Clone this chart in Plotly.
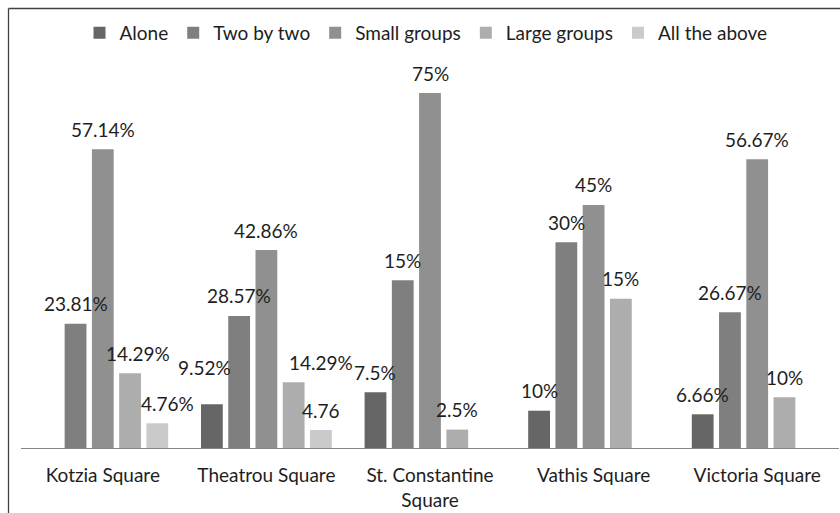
import plotly.graph_objects as go

# ---- data ----
categories = ["Kotzia Square", "Theatrou Square", "St. Constantine<br>Square", "Vathis Square", "Victoria Square"]
series_names = ["Alone", "Two by two", "Small groups", "Large groups", "All the above"]

# bar heights as drawn in the picture (scale: the 75% bar = 75)
alone = [None, 9.23, 11.77, 7.88, 7.12]
two_by_two = [26.26, 27.89, 35.43, 43.46, 28.67]
small_groups = [63.10, 41.83, 75.0, 51.34, 60.99]
large_groups = [15.78, 13.88, 3.89, 31.54, 10.71]
all_above = [5.22, 3.80, None, None, None]

# data labels as printed
alone_lbl = [None, "9.52%", "7.5%", "10%", "6.66%"]
two_lbl = ["23.81%", "28.57%", "15%", "30%", "26.67%"]
small_lbl = ["57.14%", "42.86%", "75%", "45%", "56.67%"]
large_lbl = ["14.29%", "14.29%", "2.5%", "15%", "10%"]
all_lbl = ["4.76%", "4.76", None, None, None]

values = [alone, two_by_two, small_groups, large_groups, all_above]
labels = [alone_lbl, two_lbl, small_lbl, large_lbl, all_lbl]

# ---- styling ----
colors = ["#666666", "#7f7f7f", "#909090", "#adadad", "#cacaca"]
FONT = "Lato, Carlito, Calibri, sans-serif"
FS = 19
TXT = "#1e1e1e"
BARGAP = 0.167
NSER = 5
slot = (1 - BARGAP) / NSER
# manual label nudges (series index, category index) -> (dx px, dy px)
nudges = {(0, 1): (-7, 17), (3, 0): (8, 0), (3, 1): (27, 0), (4, 0): (10, 0)}

xpos = list(range(len(categories)))

fig = go.Figure()
for j, (name, vals) in enumerate(zip(series_names, values)):
    fig.add_trace(go.Bar(
        x=xpos, y=vals, name=name,
        marker=dict(color=colors[j], line=dict(width=0)),
        hoverinfo="y+name",
    ))

annotations = []
for j, lbls in enumerate(labels):
    for i, t in enumerate(lbls):
        if t is None:
            continue
        dx, dy = nudges.get((j, i), (0, 0))
        annotations.append(dict(
            x=i + (j - (NSER - 1) / 2) * slot, y=values[j][i],
            xref="x", yref="y", text=t, showarrow=False,
            yanchor="middle", xanchor="center",
            xshift=dx, yshift=20 + dy,
            font=dict(family=FONT, size=FS, color=TXT),
        ))

# plot area in px: top 55, bottom 448 (height 393); left 21, right 839
plot_top, plot_bottom, plot_h, plot_w, plot_l = 55, 448, 393, 818, 21
px_x = lambda p: (p - plot_l) / plot_w
px_y = lambda p: (plot_bottom - p) / plot_h
border = dict(color="#404040", width=1.3)
fig.update_layout(
    width=840, height=513,
    margin=dict(l=plot_l, r=1, t=plot_top, b=513 - plot_bottom, pad=0),
    paper_bgcolor="white", plot_bgcolor="white",
    barmode="group", bargap=BARGAP, bargroupgap=0.2,
    font=dict(family=FONT, size=FS, color=TXT),
    showlegend=True,
    legend=dict(orientation="h", x=0.5 - 4 / plot_w, xanchor="center",
                y=px_y(33), yanchor="middle",
                font=dict(family=FONT, size=FS, color=TXT),
                bgcolor="rgba(0,0,0,0)", traceorder="normal"),
    annotations=annotations,
    shapes=[
        dict(type="line", xref="paper", yref="paper",
             x0=px_x(8.5), x1=px_x(850), y0=px_y(8.5), y1=px_y(8.5), line=border),
        dict(type="line", xref="paper", yref="paper",
             x0=px_x(8.5), x1=px_x(8.5), y0=px_y(8.5), y1=px_y(530), line=border),
    ],
)
fig.update_xaxes(
    range=[-0.5, 4.5], tickmode="array", tickvals=xpos, ticktext=categories,
    showgrid=False, zeroline=False, showline=True, linecolor="#868686", linewidth=1,
    ticks="", ticklabelstandoff=10,
    tickfont=dict(family=FONT, size=FS, color=TXT), fixedrange=True,
)
fig.update_yaxes(
    range=[0, plot_h / 4.7333], showgrid=False, zeroline=False, showline=False,
    showticklabels=False, ticks="", fixedrange=True,
)

fig.write_html("out.html", config={"displayModeBar": False},
               post_script="document.body.style.margin='0';")
